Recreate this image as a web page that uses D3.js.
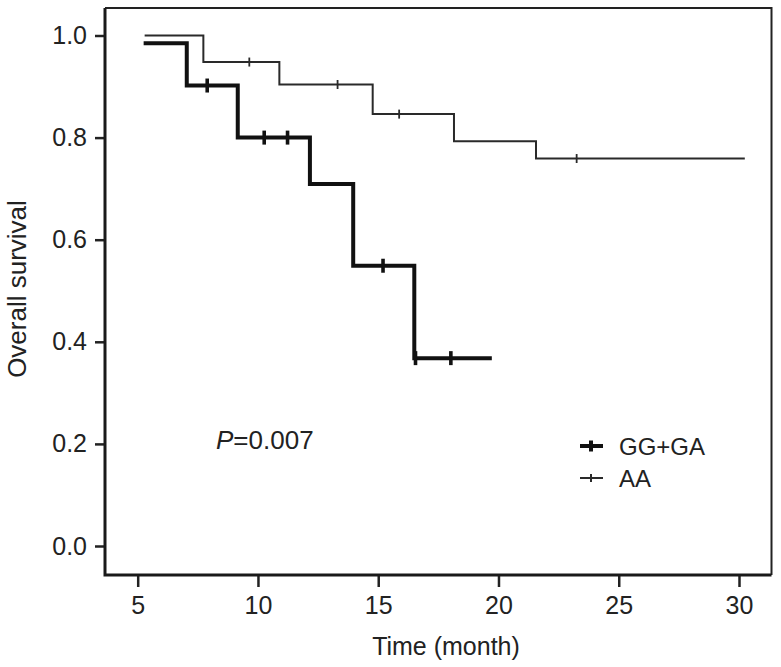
<!DOCTYPE html>
<html>
<head>
<meta charset="utf-8">
<script src="https://cdn.jsdelivr.net/npm/d3@7"></script>
<style>
  html, body { margin: 0; padding: 0; background: #fff; }
  svg { display: block; }
  text { font-family: "Liberation Sans", Arial, sans-serif; fill: #222; }
</style>
</head>
<body>
<svg id="chart" width="781" height="667"></svg>
<script>
// ---- data ----
const ggTimes    = [5.33, 7.04, 9.16, 12.16, 13.96, 16.50, 19.64];
const ggSurvival = [0.985, 0.902, 0.800, 0.709, 0.549, 0.368, 0.368];
const ggCensor   = [7.89, 10.26, 11.23, 15.20, 16.55, 18.02];

const aaTimes    = [5.33, 7.73, 10.89, 14.77, 18.15, 21.56, 30.20];
const aaSurvival = [1.000, 0.948, 0.904, 0.846, 0.793, 0.759, 0.759];
const aaCensor   = [9.64, 13.31, 15.87, 23.25];

const xTicks = [5, 10, 15, 20, 25, 30];
const yTicks = [0.0, 0.2, 0.4, 0.6, 0.8, 1.0];
const seriesNames = ["GG+GA", "AA"];
const pLabel = "0.007";

// ---- layout ----
const svg = d3.select("#chart");
const box = { left: 105, right: 771.5, top: 8, bottom: 575 };

const x = d3.scaleLinear().domain([5, 30]).range([137.7, 739]);
const y = d3.scaleLinear().domain([0, 1]).range([546, 35.5]);

function stepAt(times, surv, t) {
  let v = surv[0];
  for (let i = 0; i < times.length; i++) if (times[i] <= t + 1e-9) v = surv[i];
  return v;
}

// frame (top & right)
svg.append("path")
  .attr("d", `M${box.left},${box.top}H${box.right}V${box.bottom}`)
  .attr("fill", "none").attr("stroke", "#222").attr("stroke-width", 2);

// y axis
const yAxis = svg.append("g")
  .attr("transform", `translate(${box.left},0)`)
  .call(d3.axisLeft(y).tickValues(yTicks).tickFormat(d3.format(".1f")).tickSize(10).tickPadding(8));
yAxis.select(".domain").remove();
yAxis.selectAll(".tick line").attr("stroke", "#222").attr("stroke-width", 2.5);
yAxis.selectAll(".tick text").style("font-size", "25px").attr("fill", "#333")
  .style("font-family", "'Liberation Sans', Arial, sans-serif");

// x axis
const xAxis = svg.append("g")
  .attr("transform", `translate(0,${box.bottom})`)
  .call(d3.axisBottom(x).tickValues(xTicks).tickFormat(d3.format("d")).tickSize(12).tickPadding(9));
xAxis.select(".domain").remove();
xAxis.selectAll(".tick line").attr("stroke", "#222").attr("stroke-width", 2.5);
xAxis.selectAll(".tick text").style("font-size", "25px").attr("fill", "#333")
  .style("font-family", "'Liberation Sans', Arial, sans-serif");

// left & bottom axis lines
svg.append("path")
  .attr("d", `M${box.left},${box.top}V${box.bottom}H${box.right}`)
  .attr("fill", "none").attr("stroke", "#1a1a1a").attr("stroke-width", 3);

// curves
const line = d3.line().x(d => x(d[0])).y(d => y(d[1])).curve(d3.curveStepAfter);

function drawSeries(times, surv, censor, width, tickH, color) {
  const pts = times.map((t, i) => [t, surv[i]]);
  svg.append("path").datum(pts)
    .attr("d", line)
    .attr("fill", "none").attr("stroke", color)
    .attr("stroke-width", width).attr("stroke-linejoin", "miter").attr("stroke-linecap", "square");
  svg.append("g").selectAll("line").data(censor).join("line")
    .attr("x1", d => x(d)).attr("x2", d => x(d))
    .attr("y1", d => y(stepAt(times, surv, d)) - tickH / 2)
    .attr("y2", d => y(stepAt(times, surv, d)) + tickH / 2)
    .attr("stroke", color).attr("stroke-width", width * 0.9);
}

drawSeries(aaTimes, aaSurvival, aaCensor, 2, 9, "#2a2a2a");
drawSeries(ggTimes, ggSurvival, ggCensor, 4, 14, "#111");

// axis titles
svg.append("text")
  .attr("x", 446).attr("y", 655)
  .attr("text-anchor", "middle")
  .style("font-size", "25px")
  .text("Time (month)");

svg.append("text")
  .attr("transform", "translate(26,289) rotate(-90)")
  .attr("text-anchor", "middle")
  .style("font-size", "26px")
  .text("Overall survival");

// P value
const pText = svg.append("text")
  .attr("x", 216).attr("y", 449)
  .style("font-size", "26px");
pText.append("tspan").style("font-style", "italic").text("P");
pText.append("tspan").text("=" + pLabel);

// legend
const legend = svg.append("g");
const legendRows = [
  { name: seriesNames[0], y: 446, w: 4, h: 11, c: "#111" },
  { name: seriesNames[1], y: 478, w: 2, h: 8, c: "#2a2a2a" }
];
legendRows.forEach(r => {
  legend.append("line").attr("x1", 580).attr("x2", 603).attr("y1", r.y).attr("y2", r.y)
    .attr("stroke", r.c).attr("stroke-width", r.w);
  legend.append("line").attr("x1", 591).attr("x2", 591).attr("y1", r.y - r.h / 2).attr("y2", r.y + r.h / 2)
    .attr("stroke", r.c).attr("stroke-width", r.w);
  legend.append("text").attr("x", 619).attr("y", r.y).attr("dy", "0.36em")
    .style("font-size", "24px").text(r.name);
});
</script>
</body>
</html>
